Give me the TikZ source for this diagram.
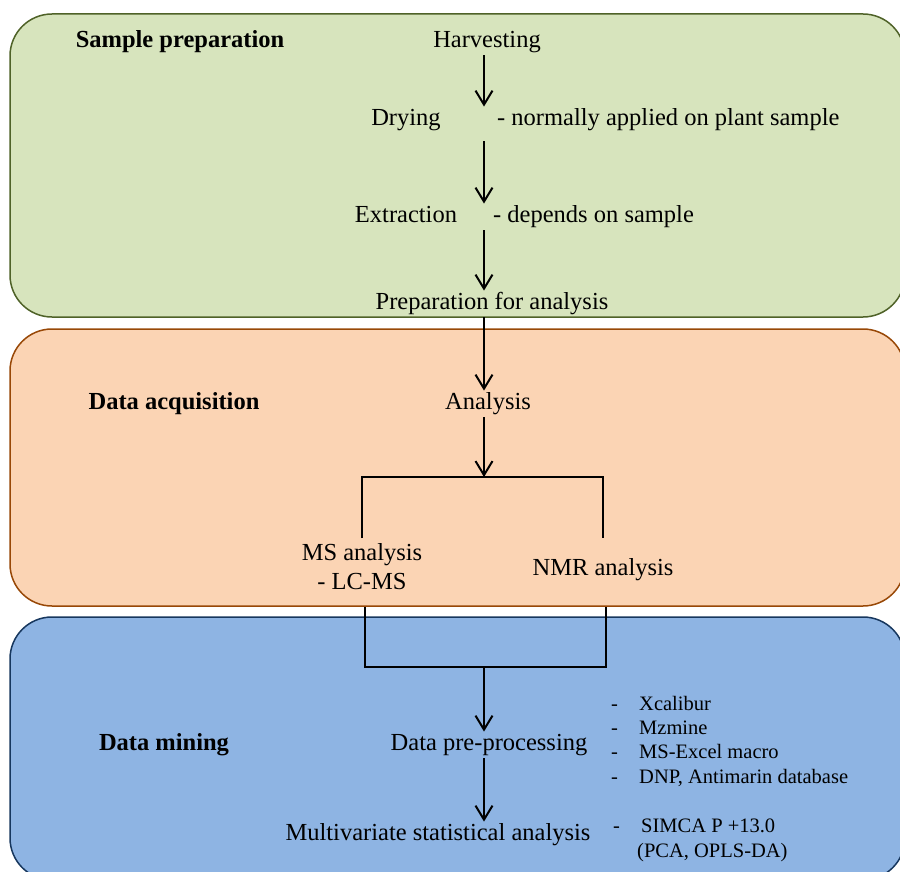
\documentclass[tikz,border=0pt]{standalone}
\usepackage{fontspec}
\setmainfont{Liberation Serif}
\usetikzlibrary{arrows.meta}
\definecolor{prepfill}{RGB}{215,228,189}
\definecolor{prepline}{RGB}{79,98,40}
\definecolor{acqfill}{RGB}{251,212,180}
\definecolor{acqline}{RGB}{152,72,7}
\definecolor{minefill}{RGB}{142,180,227}
\definecolor{mineline}{RGB}{23,55,94}

\begin{document}
\begin{tikzpicture}[
x=1pt,
y=-1pt,
stage/.style={
  rectangle,
  rounded corners=42pt,
  line width=1.5pt,
  minimum width=895pt,
  inner sep=0pt
  },
head/.style={
  font=\fontsize{24.5}{29}\selectfont\bfseries,
  text height=17pt,
  text depth=5.5pt,
  inner sep=2pt
  },
task/.style={
  font=\fontsize{24.5}{29}\selectfont,
  text height=17pt,
  text depth=5.5pt,
  inner sep=2pt
  },
note/.style={
  task,
  anchor=west
  },
tool/.style={
  font=\fontsize{20.5}{24}\selectfont,
  text height=14.5pt,
  text depth=4.5pt,
  inner sep=1pt,
  anchor=west
  },
flow/.style={
  line width=2pt
  },
>={Straight Barb[length=14pt,width=17pt]}
]
\useasboundingbox (0,0) rectangle (900,872);
\clip (0,0) rectangle (900,872);

\node[stage,draw=prepline,fill=prepfill,minimum height=303pt] (prepbox) at (457.5,165.5) {};
\node[stage,draw=acqline,fill=acqfill,minimum height=277pt] (acqbox) at (457.5,467.5) {};
\node[stage,draw=mineline,fill=minefill,minimum height=263pt] (minebox) at (457.5,748.5) {};

\node[head] (prephead) at (180,42) {Sample preparation};
\node[head] (acqhead) at (174,404) {Data acquisition};
\node[head] (minehead) at (164,745) {Data mining};

\node[task] (harvest) at (487,42) {Harvesting};
\node[task] (drying) at (406,120) {Drying};
\node[note] (dryingnote) at (495,120) {- normally applied on plant sample};
\node[task] (extraction) at (406,217) {Extraction};
\node[note] (extractnote) at (491,217) {- depends on sample};
\node[task] (prepare) at (492,304) {Preparation for analysis};
\node[task] (analysis) at (488,404) {Analysis};
\node[task,align=center,text height=46pt,anchor=north] (ms) at (362,541) {MS analysis\\- LC-MS};
\node[task] (nmr) at (603,570) {NMR analysis};
\node[task] (preproc) at (489,745) {Data pre-processing};
\node[task] (multi) at (438,835) {Multivariate statistical analysis};

\foreach \tname [count=\ti] in {Xcalibur,Mzmine,MS-Excel macro,{DNP, Antimarin database}}
{
  \node[tool] (dash\ti) at (610,681+24.3*\ti) {-};
  \node[tool] (tool\ti) at (638,681+24.3*\ti) {\tname};
}
\node[tool] (simcadash) at (612,827) {-};
\node[tool] (simca) at (640,827) {SIMCA P +13.0};
\node[tool] (simcaopt) at (636,852) {(PCA, OPLS-DA)};

\coordinate (spine) at (484,0);
\coordinate (split) at (484,477);
\coordinate (merge) at (484,667);

\draw[flow,->] (harvest.south -| spine) -- (drying.north -| spine);
\draw[flow,->,shorten <=8pt] (drying.south -| spine) -- (extraction.north -| spine);
\draw[flow,->] (extraction.south -| spine) -- (prepare.north -| spine);
\draw[flow,->] (prepare.south -| spine) -- (analysis.north -| spine);
\draw[flow,->] (analysis.south -| spine) -- (split);
\draw[flow,shorten <=3pt,shorten >=3pt] (ms.north) |- (split) -| (nmr.north |- ms.north);
\draw[flow] ([xshift=3pt]ms.south |- acqbox.south) |- (merge) -| ([xshift=3pt]nmr.south |- acqbox.south);
\draw[flow,->] (merge) -- (preproc.north -| spine);
\draw[flow,->] (preproc.south -| spine) -- (multi.north -| spine);
\end{tikzpicture}
\end{document}
